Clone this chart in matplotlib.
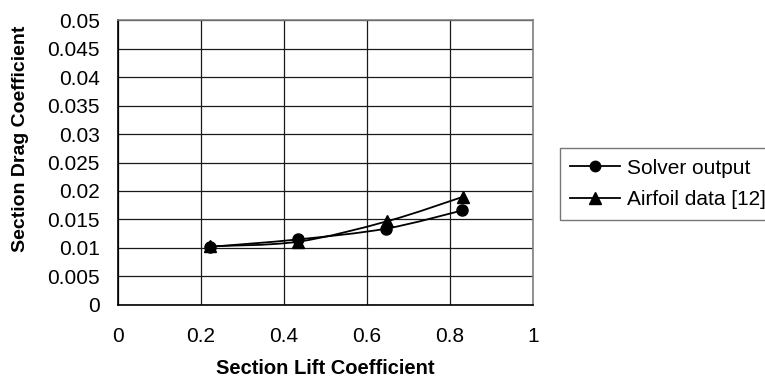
import matplotlib
matplotlib.use("Agg")
import matplotlib.pyplot as plt
import numpy as np
from matplotlib.path import Path
from matplotlib.patches import PathPatch
from matplotlib.lines import Line2D

plt.rcParams['font.family'] = ['Liberation Sans', 'DejaVu Sans']

# data
solver_cl = [0.222, 0.433, 0.646, 0.830]
solver_cd = [0.0102, 0.0115, 0.0134, 0.0166]
airfoil_cl = [0.222, 0.433, 0.649, 0.832]
airfoil_cd = [0.0103, 0.0111, 0.0147, 0.0190]

x_ticks = [0, 0.2, 0.4, 0.6, 0.8, 1]
x_labels = ['0', '0.2', '0.4', '0.6', '0.8', '1']
y_ticks = [0, 0.005, 0.01, 0.015, 0.02, 0.025, 0.03, 0.035, 0.04, 0.045, 0.05]
y_labels = ['0', '0.005', '0.01', '0.015', '0.02', '0.025', '0.03', '0.035',
            '0.04', '0.045', '0.05']


def smooth_path(x, y):
    # excel-like smoothed line: cubic bezier through the points
    p = np.column_stack([x, y])
    ext = np.vstack([p[0], p, p[-1]])
    verts = [p[0]]
    codes = [Path.MOVETO]
    for i in range(len(p) - 1):
        p0, p1, p2, p3 = ext[i], ext[i + 1], ext[i + 2], ext[i + 3]
        c1 = p1 + (p2 - p0) / 6.0
        c2 = p2 - (p3 - p1) / 6.0
        verts += [c1, c2, p2]
        codes += [Path.CURVE4] * 3
    return Path(verts, codes)


fig = plt.figure(figsize=(7.65, 3.82), dpi=100)
ax = fig.add_axes([0.1542, 0.2016, 0.5425, 0.746])

ax.set_xlim(0, 1)
ax.set_ylim(0, 0.05)
ax.set_xticks(x_ticks)
ax.set_xticklabels(x_labels)
ax.set_yticks(y_ticks)
ax.set_yticklabels(y_labels)
ax.tick_params(length=0, labelsize=15)
ax.tick_params(axis='x', pad=16)
ax.tick_params(axis='y', pad=13)
ax.grid(True, color='#1a1a1a', linewidth=0.9)
ax.set_axisbelow(True)

for side in ['top', 'right']:
    ax.spines[side].set_color('#808080')
    ax.spines[side].set_linewidth(1.2)
for side in ['left', 'bottom']:
    ax.spines[side].set_color('black')
    ax.spines[side].set_linewidth(1.2)

for xs, ys, mk in [(solver_cl, solver_cd, 'o'), (airfoil_cl, airfoil_cd, '^')]:
    ax.add_patch(PathPatch(smooth_path(xs, ys), fill=False, edgecolor='black',
                           linewidth=1.3, zorder=3))
    ax.plot(xs, ys, linestyle='none', marker=mk, color='black',
            markersize=8, zorder=4, clip_on=False)

ax.set_xlabel('Section Lift Coefficient', fontsize=14.5, fontweight='bold')
ax.xaxis.set_label_coords(0.5, -0.189)
ax.set_ylabel('Section Drag Coefficient', fontsize=14, fontweight='bold')
ax.yaxis.set_label_coords(-0.215, 0.582)

handles = [
    Line2D([], [], color='black', linewidth=1.3, marker='o', markersize=7.5),
    Line2D([], [], color='black', linewidth=1.3, marker='^', markersize=8),
]
leg = fig.legend(handles, ['Solver output', 'Airfoil data [12]'],
                 loc='upper left', bbox_to_anchor=(0.732, 0.612),
                 fontsize=15, frameon=True, fancybox=False, handlelength=2.4,
                 handletextpad=0.3, borderpad=0.5, labelspacing=0.6,
                 borderaxespad=0)
leg.get_frame().set_edgecolor('#555555')
leg.get_frame().set_linewidth(1.0)

fig.savefig('out.png', dpi=100)
